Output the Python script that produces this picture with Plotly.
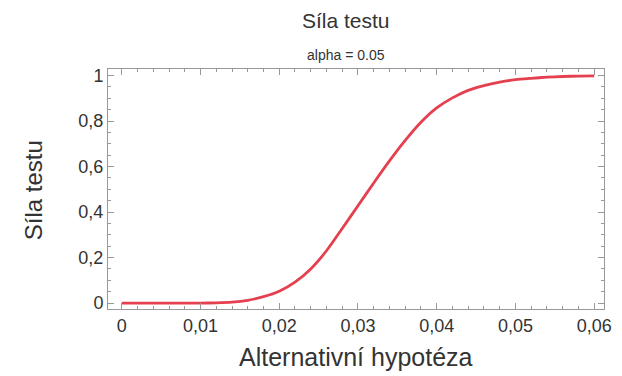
import plotly.graph_objects as go

# Alternative hypothesis values
alt_hyp = [0.000, 0.002, 0.004, 0.006, 0.008, 0.010, 0.012, 0.014, 0.016, 0.018,
           0.020, 0.022, 0.024, 0.026, 0.028, 0.030, 0.032, 0.034, 0.036, 0.038,
           0.040, 0.042, 0.044, 0.046, 0.048, 0.050, 0.052, 0.054, 0.056, 0.058,
           0.060]
# Power of the test
power = [0.000, 0.000, 0.000, 0.000, 0.000, 0.000, 0.001, 0.004, 0.012, 0.028,
         0.052, 0.092, 0.150, 0.230, 0.328, 0.428, 0.528, 0.625, 0.715, 0.795,
         0.858, 0.902, 0.935, 0.956, 0.971, 0.982, 0.988, 0.993, 0.996, 0.998,
         0.999]

x_tickvals = [0, 0.01, 0.02, 0.03, 0.04, 0.05, 0.06]
x_ticktext = ["0", "0,01", "0,02", "0,03", "0,04", "0,05", "0,06"]
y_tickvals = [0, 0.2, 0.4, 0.6, 0.8, 1]
y_ticktext = ["0", "0,2", "0,4", "0,6", "0,8", "1"]

title_text = "Síla testu"
subtitle_text = "alpha = 0.05"
x_title = "Alternativní hypotéza"
y_title = "Síla testu"

FONT = "Liberation Sans, Arial, sans-serif"
TXT = "#333333"
AX = "#999999"

L, R, T, B = 108, 10, 69, 67
W, H = 622, 376
PW, PH = W - L - R, H - T - B

def px_x(px):
    return (px - L) / PW

def px_y(py):
    return (H - B - py) / PH

fig = go.Figure()
fig.add_trace(go.Scatter(
    x=alt_hyp, y=power, mode="lines",
    line=dict(color="#e5404f", width=2.8, shape="spline", smoothing=0.6),
    showlegend=False, hoverinfo="skip",
))

annotations = [
    dict(text=title_text, x=px_x(350), y=px_y(20), xref="paper", yref="paper",
         xanchor="center", yanchor="middle", showarrow=False,
         font=dict(size=21, color=TXT, family=FONT)),
    dict(text=subtitle_text, x=px_x(350), y=px_y(55), xref="paper", yref="paper",
         xanchor="center", yanchor="middle", showarrow=False,
         font=dict(size=14, color=TXT, family=FONT)),
    dict(text=x_title, x=px_x(360), y=px_y(357), xref="paper", yref="paper",
         xanchor="center", yanchor="middle", showarrow=False,
         font=dict(size=25, color=TXT, family=FONT)),
    dict(text=y_title, x=px_x(32), y=px_y(190), xref="paper", yref="paper",
         xanchor="center", yanchor="middle", showarrow=False, textangle=-90,
         font=dict(size=24, color=TXT, family=FONT)),
]

fig.update_layout(
    width=W, height=H,
    margin=dict(l=L, r=R, t=T, b=B),
    paper_bgcolor="white", plot_bgcolor="white",
    font=dict(family=FONT, color=TXT),
    annotations=annotations,
)

fig.update_xaxes(
    range=[-0.00175, 0.06125],
    tickvals=x_tickvals, ticktext=x_ticktext,
    showgrid=False, zeroline=False,
    showline=True, linecolor=AX, linewidth=1, mirror="ticks",
    ticks="inside", ticklen=6, tickcolor=AX, tickwidth=1,
    minor=dict(dtick=0.002, ticks="inside", ticklen=3, tickcolor=AX, showgrid=False),
    tickfont=dict(size=18, color=TXT),
)
fig.update_yaxes(
    range=[-0.026, 1.029],
    tickvals=y_tickvals, ticktext=y_ticktext,
    showgrid=False, zeroline=False,
    showline=True, linecolor=AX, linewidth=1, mirror="ticks",
    ticks="inside", ticklen=6, tickcolor=AX, tickwidth=1,
    minor=dict(dtick=0.05, ticks="inside", ticklen=3, tickcolor=AX, showgrid=False),
    tickfont=dict(size=18, color=TXT),
)

fig.write_html("out.html")
